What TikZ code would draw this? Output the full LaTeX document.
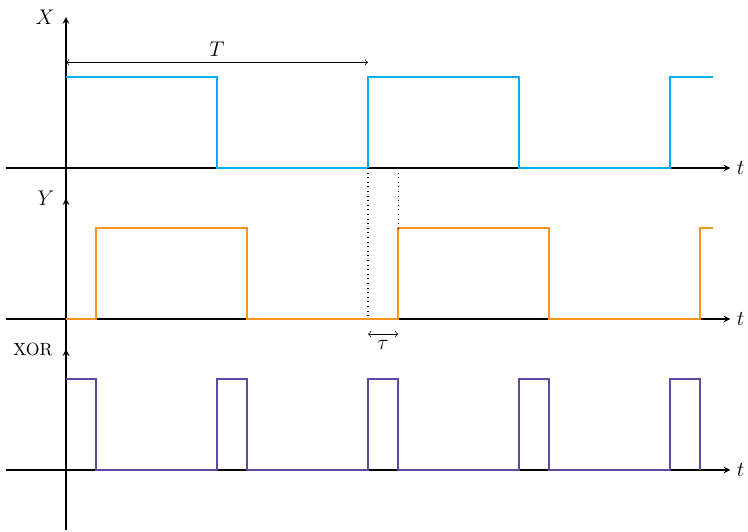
\documentclass[tikz,border=0pt]{standalone}
\usepackage{amsmath,amssymb}
\def\period{6}
\def\delay{0.6}
\def\amp{1.8}
\usetikzlibrary{arrows}
\definecolor{xblue}{RGB}{0,174,239}
\definecolor{yorange}{RGB}{247,148,29}
\definecolor{xorpurple}{RGB}{96,72,160}

\begin{document}
\begin{tikzpicture}[signal/.style={line width=1.2pt}, every node/.style={font=\large}]
		\tikzstyle{axis}=[-stealth, line width=0.7pt]
		\tikzstyle{x signal}=[signal, draw=xblue]
		\tikzstyle{y signal}=[signal, draw=yorange]
		\tikzstyle{xor signal}=[signal, draw=xorpurple]
		\tikzstyle{annot}=[thin, to-to]
		
		\useasboundingbox (-1.311,-7.212) rectangle (13.55,3.338);
		
		% Draw the axes (one per signal)
		\foreach \name / \y / \top in {X/0/3.0,Y/-3/2.4,XOR/-6/2.4}
		{
		\coordinate (\name-l) at (-1.2,\y);
		\coordinate (\name-r) at (13.2,\y);
		\coordinate (\name-b) at (0,\y-1.2);
		\coordinate (\name-t) at (0,\y+\top);
		\draw[axis] (\name-l) -- (\name-r) node[right] {$t$};
		\draw[axis] (\name-b) -- (\name-t);
		}
		
		% Name the axes
		\node[left=3pt] (lx) at (X-t) {$X$};
		\node[left=3pt] (ly) at (Y-t) {$Y$};
		\node[left=4pt, font=\normalsize] (lxor) at (XOR-t) {XOR};
		
		% Draw the signal X
		\draw[x signal] (0,\amp) -| (\period/2,0) -| (\period,\amp)
		-| (3*\period/2,0) -| (2*\period,\amp) -- (12.85,\amp);
		
		% Draw the signal Y, delayed
		\draw[y signal, yshift=-3cm] (0,0) -| (\delay,\amp) -| (\period/2+\delay,0)
		-| (\period+\delay,\amp) -| (3*\period/2+\delay,0) -| (2*\period+\delay,\amp) -- (12.85,\amp);
		
		% Draw X xor Y
		\draw[xor signal, yshift=-6cm] (0,\amp) -| (\delay,0) -| (\period/2,\amp)
		-| (\period/2+\delay,0) -| (\period,\amp) -| (\period+\delay,0)
		-| (3*\period/2,\amp) -| (3*\period/2+\delay,0) -| (2*\period,\amp)
		-| (2*\period+\delay,0);
		
		% Annotate the period
		\coordinate (T-a) at (0,2.1);
		\coordinate (T-b) at (\period,2.1);
		\draw[annot] (T-a) -- node[above] {$T$} (T-b);
		
		% Annotate the delay
		\coordinate (d-1) at (\period,0);
		\coordinate (d-2) at (\period,-3);
		\coordinate (d-3) at (\period+\delay,0);
		\coordinate (d-4) at (\period+\delay,-3+\amp);
		\draw[dotted, semithick] (d-1) -- (d-2);
		\draw[dotted, semithick] (d-3) -- (d-4);
		\coordinate (tau-a) at (\period,-3.3);
		\coordinate (tau-b) at (\period+\delay,-3.3);
		\draw[annot] (tau-a) -- node[below] {$\tau$} (tau-b);
	
	\end{tikzpicture}
\end{document}
